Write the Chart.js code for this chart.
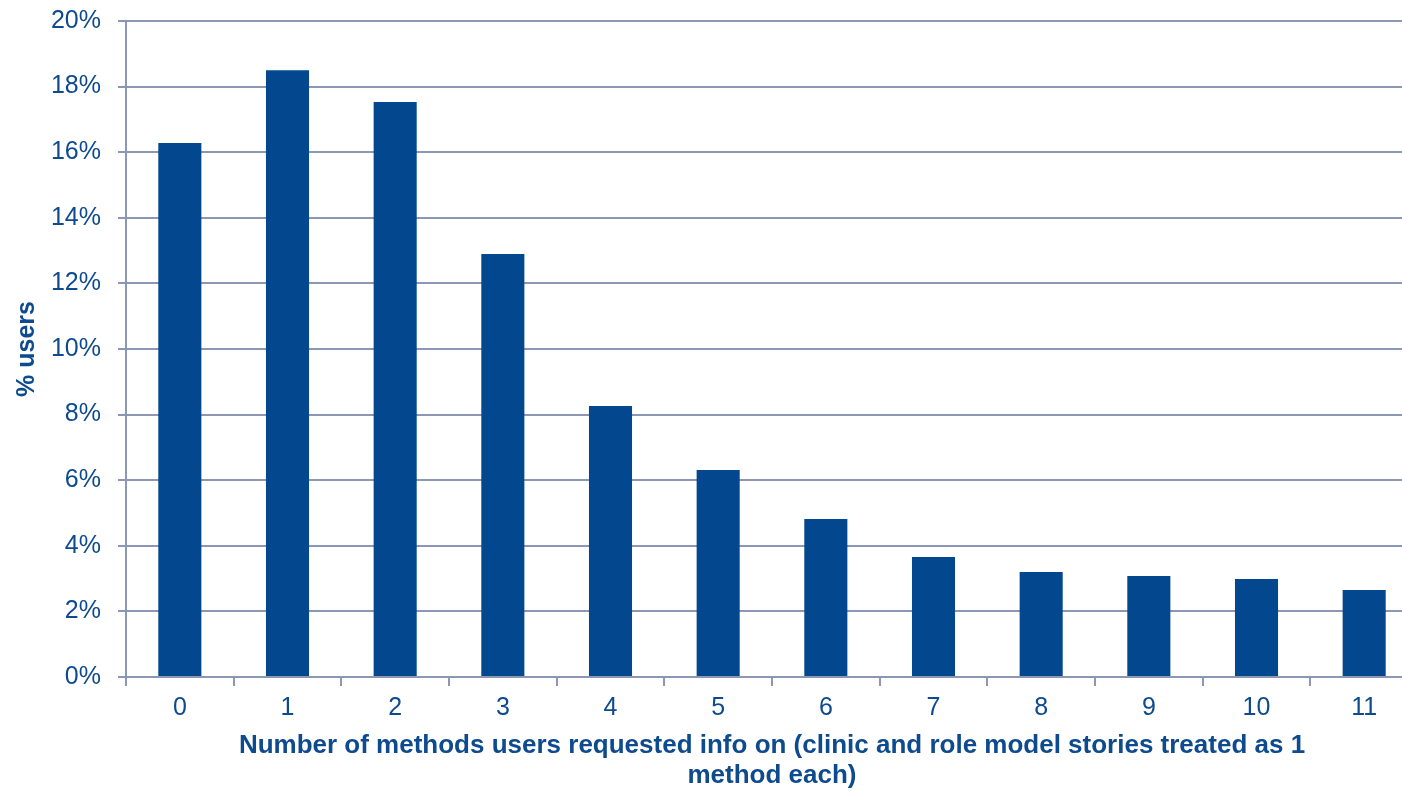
<!DOCTYPE html>
<html>
<head>
<meta charset="utf-8">
<script src="https://cdn.jsdelivr.net/npm/chart.js@4/dist/chart.umd.min.js"></script>
<style>
  html, body { margin: 0; padding: 0; background: #ffffff; overflow: hidden; }
  #wrap { width: 1402px; height: 791px; overflow: hidden; position: relative; }
  #c { position: absolute; left: 0; top: 0; }
</style>
</head>
<body>
<div id="wrap"><canvas id="c" width="1418" height="791"></canvas></div>
<script>
// Number of methods each user requested information on
const categories = ['0', '1', '2', '3', '4', '5', '6', '7', '8', '9', '10', '11'];
// Share of users (%) for each count
const userShare = [16.28, 18.5, 17.53, 12.9, 8.26, 6.31, 4.82, 3.66, 3.2, 3.08, 2.99, 2.65];
const yTicks = [0, 2, 4, 6, 8, 10, 12, 14, 16, 18, 20];

const blue = '#03478f';
const textBlue = '#0d4a8e';
const gridColor = '#8c97b6';
const font = 'Liberation Sans, Arial, sans-serif';

new Chart(document.getElementById('c'), {
  type: 'bar',
  data: {
    labels: categories,
    datasets: [{
      data: userShare,
      backgroundColor: blue,
      borderWidth: 0,
      barPercentage: 0.4,
      categoryPercentage: 1.0
    }]
  },
  options: {
    responsive: false,
    animation: false,
    layout: { padding: { top: 21, right: 0, left: 0, bottom: 0 } },
    plugins: { legend: { display: false }, tooltip: { enabled: false } },
    scales: {
      x: {
        offset: true,
        grid: {
          offset: true,
          drawOnChartArea: false,
          color: gridColor,
          lineWidth: 2,
          tickLength: 9
        },
        border: { color: gridColor, width: 2 },
        ticks: {
          color: textBlue,
          font: { family: font, size: 25 },
          padding: 7,
          maxRotation: 0
        },
        title: {
          display: true,
          text: ['Number of methods users requested info on (clinic and role model stories treated as 1', 'method each)'],
          color: textBlue,
          font: { family: font, size: 26, weight: 'bold', lineHeight: 1.15 },
          padding: { top: 4, bottom: 0 }
        },
        afterFit(scale) {
          scale.height = 114;
          scale.paddingLeft = 0;
          scale.paddingRight = 0;
        }
      },
      y: {
        min: 0,
        max: 20,
        afterBuildTicks(scale) { scale.ticks = yTicks.map(v => ({ value: v })); },
        grid: {
          color: gridColor,
          lineWidth: 2,
          tickLength: 8
        },
        border: { color: gridColor, width: 2 },
        ticks: {
          color: textBlue,
          font: { family: font, size: 25 },
          padding: 17,
          callback: v => v + '%'
        },
        title: {
          display: true,
          text: '% users',
          color: textBlue,
          font: { family: font, size: 25, weight: 'bold' },
          padding: { top: 12, bottom: 4 }
        },
        afterFit(scale) {
          scale.width = 126;
          scale.paddingTop = 0;
          scale.paddingBottom = 0;
        }
      }
    }
  }
});
</script>
</body>
</html>
